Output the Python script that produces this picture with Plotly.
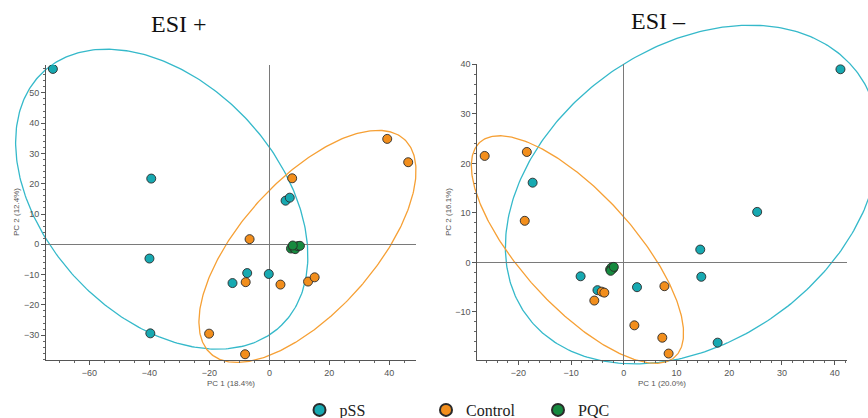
import numpy as np
import plotly.graph_objects as go

# ---------------- data ----------------
# ESI+ panel
pos_pss_x = [-72.2, -39.4, -40.0, -39.7, -12.3, -7.4, -0.2, 5.4, 6.8]
pos_pss_y = [57.9, 21.7, -4.7, -29.4, -12.8, -9.5, -9.8, 14.4, 15.4]
pos_ctrl_x = [39.3, 46.3, 7.6, -6.6, -7.9, 3.7, 12.9, 15.1, -20.1, -8.1]
pos_ctrl_y = [34.8, 27.1, 21.8, 1.7, -12.5, -13.3, -12.3, -10.9, -29.5, -36.3]
pos_pqc_x = [7.2, 8.0, 8.6, 9.5, 10.2, 7.8]
pos_pqc_y = [-1.4, -1.1, -1.6, -0.6, -0.5, -0.4]

# ESI- panel
neg_pss_x = [41.1, 25.3, 14.5, 14.7, -17.3, -8.2, -5.0, 2.5, 17.8]
neg_pss_y = [39.0, 10.2, 2.6, -2.9, 16.1, -2.8, -5.6, -5.0, -16.2]
neg_ctrl_x = [-26.4, -18.4, -18.8, -4.2, -3.7, -5.6, 7.7, 2.0, 7.3, 8.5]
neg_ctrl_y = [21.5, 22.3, 8.4, -5.9, -6.1, -7.7, -4.8, -12.7, -15.2, -18.4]
neg_pqc_x = [-2.6, -2.3, -2.0, -2.5, -1.9]
neg_pqc_y = [-1.4, -1.0, -1.2, -1.7, -0.9]

# confidence ellipses: centre x, centre y, semi-major, semi-minor, angle (deg)
pos_pss_ellipse = [-35.9, 14.9, 57.7, 38.7, -46.2]
pos_ctrl_ellipse = [12.7, -0.7, 47.9, 22.0, 47.5]
neg_pss_ellipse = [13.0, 13.7, 39.9, 28.9, 41.6]
neg_ctrl_ellipse = [-8.8, 2.6, 28.5, 11.0, -50.1]

group_names = ["pSS", "Control", "PQC"]
panel_titles = ["ESI +", "ESI \u2013"]
x_titles = ["PC 1 (18.4%)", "PC 1 (20.0%)"]
y_titles = ["PC 2 (12.4%)", "PC 2 (16.1%)"]

# ---------------- styles ----------------
W, H = 868, 418
fill = {"pSS": "#17A9B1", "Control": "#F28E1C", "PQC": "#168A3F"}
ring = {"pSS": "#35B9CA", "Control": "#F6A035"}

def fx(px):
    return px / W

def fy(py):
    return (H - py) / H

# panel pixel boxes (left, right, top, bottom)
boxes = [(46, 416, 65, 360), (477.3, 847.3, 64.3, 360)]
vis_ranges = [([-74.5, 48.9], [-38.2, 59.2]), ([-27.8, 42.4], [-19.7, 40.0])]
ext_dom_x = [[0.0, 0.5], [0.5, 1.0]]
ext_dom_y = [0.0, 1.0]
dticks = [(20, 5, 10, 2), (10, 2, 10, 2)]


def extend(r, d, nd):
    s = (r[1] - r[0]) / (d[1] - d[0])
    return [r[0] - (d[0] - nd[0]) * s, r[1] + (nd[1] - d[1]) * s]


def ellipse(p):
    cx, cy, a, b, ang = p
    t = np.linspace(0, 2 * np.pi, 361)
    th = np.deg2rad(ang)
    x = cx + a * np.cos(t) * np.cos(th) - b * np.sin(t) * np.sin(th)
    y = cy + a * np.cos(t) * np.sin(th) + b * np.sin(t) * np.cos(th)
    return x, y


fig = go.Figure()

# ellipses on extended (invisible) axes: x/y (left), x2/y2 (right)
for i, (pe, ce) in enumerate([(pos_pss_ellipse, pos_ctrl_ellipse),
                              (neg_pss_ellipse, neg_ctrl_ellipse)]):
    xa = "x" if i == 0 else "x2"
    ya = "y" if i == 0 else "y2"
    for p, g in [(pe, "pSS"), (ce, "Control")]:
        ex, ey = ellipse(p)
        fig.add_trace(go.Scatter(x=ex, y=ey, mode="lines", xaxis=xa, yaxis=ya,
                                 line=dict(color=ring[g], width=1.3),
                                 showlegend=False, hoverinfo="skip"))

# points on visible axes: x3/y3 (left), x4/y4 (right)
panels = [
    [(pos_pss_x, pos_pss_y), (pos_ctrl_x, pos_ctrl_y), (pos_pqc_x, pos_pqc_y)],
    [(neg_pss_x, neg_pss_y), (neg_ctrl_x, neg_ctrl_y), (neg_pqc_x, neg_pqc_y)],
]
legend_ids = ["legend", "legend2", "legend3"]
for i, groups in enumerate(panels):
    xa = "x3" if i == 0 else "x4"
    ya = "y3" if i == 0 else "y4"
    for k, ((gx, gy), g) in enumerate(zip(groups, group_names)):
        fig.add_trace(go.Scatter(
            x=gx, y=gy, mode="markers", xaxis=xa, yaxis=ya, name=g,
            marker=dict(size=9, color=fill[g], line=dict(color="#2a2a2a", width=0.9)),
            showlegend=(i == 0), legend=legend_ids[k]))

tick_font = dict(family="Liberation Sans, Arial, sans-serif", size=9, color="#555")
layout = dict(
    width=W, height=H, margin=dict(l=0, r=0, t=0, b=0, autoexpand=False),
    paper_bgcolor="white", plot_bgcolor="rgba(0,0,0,0)",
    showlegend=True,
)

for i in range(2):
    l, r, t, b = boxes[i]
    dx = [fx(l), fx(r)]
    dy = [fy(b), fy(t)]
    xr, yr = vis_ranges[i]
    ext_xr = extend(xr, dx, ext_dom_x[i])
    ext_yr = extend(yr, dy, ext_dom_y)
    sfx = "" if i == 0 else "2"
    layout["xaxis" + sfx] = dict(domain=ext_dom_x[i], range=ext_xr, visible=False,
                                 anchor="y" + sfx, fixedrange=True)
    layout["yaxis" + sfx] = dict(domain=ext_dom_y, range=ext_yr, visible=False,
                                 anchor="x" + sfx, fixedrange=True)
    vs = "3" if i == 0 else "4"
    mxd, mnx, myd, mny = dticks[i]
    common = dict(showline=True, linecolor="#555", linewidth=1, ticks="outside",
                  ticklen=4, tickcolor="#555", tickwidth=1, showgrid=False,
                  zeroline=True, zerolinecolor="#7a7a7a", zerolinewidth=1.3,
                  tickfont=tick_font, fixedrange=True)
    layout["xaxis" + vs] = dict(domain=dx, range=xr, anchor="y" + vs, dtick=mxd, tick0=0,
                                minor=dict(dtick=mnx, tick0=0, ticks="outside", ticklen=2,
                                           tickcolor="#666"), **common)
    layout["yaxis" + vs] = dict(domain=dy, range=yr, anchor="x" + vs, dtick=myd, tick0=0,
                                minor=dict(dtick=mny, tick0=0, ticks="outside", ticklen=2,
                                           tickcolor="#666"), **common)

# legends: one per group, positioned under the panels
leg_centres = [319.5, 446, 558]
for k, lid in enumerate(legend_ids):
    layout[lid] = dict(x=fx(leg_centres[k] - 20), xanchor="left", y=fy(410), yanchor="middle",
                       xref="container", yref="container",
                       orientation="h", bgcolor="rgba(0,0,0,0)", itemsizing="constant",
                       font=dict(family="Liberation Serif, Times New Roman, serif", size=16,
                                 color="#222"))

fig.update_layout(**layout)

ann = []
title_pos = [(178.7, 24), (658, 21)]
for i in range(2):
    ann.append(dict(text=panel_titles[i], x=fx(title_pos[i][0]), y=fy(title_pos[i][1]),
                    xref="paper", yref="paper", showarrow=False, xanchor="center",
                    yanchor="middle",
                    font=dict(family="Liberation Serif, Times New Roman, serif", size=24,
                              color="#111")))
    l, r, t, b = boxes[i]
    ann.append(dict(text=x_titles[i], x=fx((l + r) / 2), y=fy(383.3), xref="paper",
                    yref="paper", showarrow=False, xanchor="center", yanchor="middle",
                    font=dict(family="Liberation Sans, Arial, sans-serif", size=8,
                              color="#555")))
    ann.append(dict(text=y_titles[i], x=fx([16, 448.3][i]), y=fy([212, 211.7][i]),
                    xref="paper", yref="paper", showarrow=False, xanchor="center",
                    yanchor="middle", textangle=-90,
                    font=dict(family="Liberation Sans, Arial, sans-serif", size=8,
                              color="#555")))
fig.update_layout(annotations=ann)

fig.write_html("out.html")
